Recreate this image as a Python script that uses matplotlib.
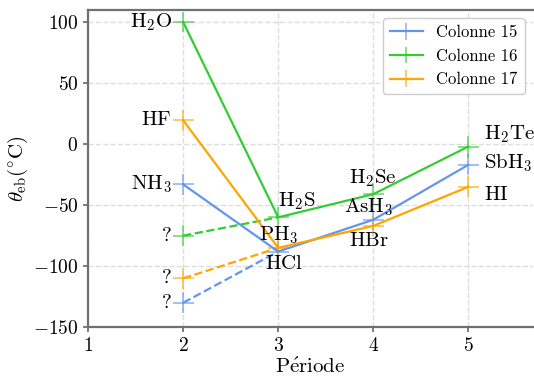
import matplotlib
matplotlib.use("Agg")
import matplotlib.pyplot as plt

# ─────────────────────────────────────────────
#  DATA  (boiling points of hydrides, °C)
# ─────────────────────────────────────────────
periode = [2, 3, 4, 5]
col15 = [-33, -88, -62, -17]      # NH3, PH3, AsH3, SbH3
col16 = [100, -60, -41, -2]       # H2O, H2S, H2Se, H2Te
col17 = [19.5, -85, -67, -35]     # HF, HCl, HBr, HI
# values "expected" without hydrogen bonds (period 2)
extra15 = -130
extra16 = -75
extra17 = -110

names15 = [r"$\mathrm{NH_3}$", r"$\mathrm{PH_3}$", r"$\mathrm{AsH_3}$", r"$\mathrm{SbH_3}$"]
names16 = [r"$\mathrm{H_2O}$", r"$\mathrm{H_2S}$", r"$\mathrm{H_2Se}$", r"$\mathrm{H_2Te}$"]
names17 = [r"$\mathrm{HF}$", r"$\mathrm{HCl}$", r"$\mathrm{HBr}$", r"$\mathrm{HI}$"]

C15 = "#6495ED"
C16 = "#32CD32"
C17 = "#FFA500"

plt.rcParams["font.family"] = "serif"
plt.rcParams["font.serif"] = ["cmr10"]
plt.rcParams["mathtext.fontset"] = "cm"
plt.rcParams["axes.formatter.use_mathtext"] = True

fig, ax = plt.subplots(figsize=(5.34, 3.8), dpi=100)
fig.subplots_adjust(left=0.165, right=0.998, bottom=0.139, top=0.974)

ax.grid(True, color="#dddddd", linestyle="--", linewidth=1)
ax.set_axisbelow(True)

for vals, extra, col, lab in [(col15, extra15, C15, "Colonne 15"),
                              (col16, extra16, C16, "Colonne 16"),
                              (col17, extra17, C17, "Colonne 17")]:
    eb = ax.errorbar(periode, vals, xerr=0.11, yerr=8.5, color=col, lw=1.6,
                     elinewidth=1.4, label=lab)
    eb[2][0].set_alpha(0.6)
    eb[2][1].set_alpha(0.6)
    ax.plot([periode[0], periode[1]], [extra, vals[1]], "--", color=col, lw=1.6)
    ex = ax.errorbar([periode[0]], [extra], xerr=0.11, yerr=8.5, fmt="none",
                     ecolor=col, elinewidth=1.4)
    ex[2][0].set_alpha(0.6)
    ex[2][1].set_alpha(0.6)

fs = 15
# period 2 labels, left of the points
for y, t in [(col16[0], names16[0]), (col17[0], names17[0]), (col15[0], names15[0]),
             (extra16, "?"), (extra17, "?"), (extra15, "?")]:
    ax.text(1.88, y, t, ha="right", va="center", fontsize=fs)

# period 3
ax.text(3.0, -47, names16[1], ha="left", va="center", fontsize=fs)
ax.text(3.0, -75, names15[1], ha="center", va="center", fontsize=fs)
ax.text(3.06, -98, names17[1], ha="center", va="center", fontsize=fs)
# period 4
ax.text(4.0, -28, names16[2], ha="center", va="center", fontsize=fs)
ax.text(3.95, -52, names15[2], ha="center", va="center", fontsize=fs)
ax.text(3.95, -79, names17[2], ha="center", va="center", fontsize=fs)
# period 5
ax.text(5.16, 8, names16[3], ha="left", va="center", fontsize=fs)
ax.text(5.16, -16, names15[3], ha="left", va="center", fontsize=fs)
ax.text(5.16, -42, names17[3], ha="left", va="center", fontsize=fs)

ax.set_xlim(1, 5.68)
ax.set_ylim(-150, 110)
ax.set_xticks([1, 2, 3, 4, 5])
ax.set_yticks([-150, -100, -50, 0, 50, 100])
ax.tick_params(labelsize=14, color="#666666", width=1.2)

for s in ["left", "bottom", "top"]:
    ax.spines[s].set_color("#707070")
    ax.spines[s].set_linewidth(1.6)
ax.spines["right"].set_visible(False)

ax.set_xlabel(r"$\mathrm{P\acute{e}riode}$", fontsize=15, labelpad=2)
ax.set_ylabel(r"$\theta_{\mathrm{eb}}(^{\circ}\mathrm{C})$", fontsize=15, labelpad=2)

ax.legend(loc="upper right", fontsize=12, framealpha=1, edgecolor="#cccccc")

plt.savefig("out.png", dpi=100)
